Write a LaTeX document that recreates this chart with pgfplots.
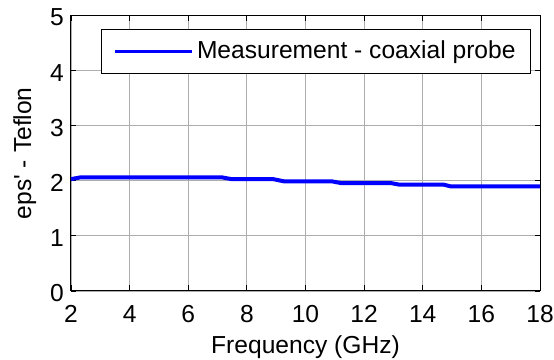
\documentclass[border=0pt]{standalone}
\usepackage{fontspec}
\setmainfont{Liberation Sans}
\usepackage{pgfplots}
\pgfplotsset{compat=1.18}
\newcommand{\bigf}{\fontsize{24.6pt}{29pt}\selectfont}
\begin{document}
\bigf
\begin{tikzpicture}
\begin{axis}[name=ax, scale only axis, width=469pt, height=275.5pt,
 xmin=2, xmax=18, ymin=0, ymax=5,
 xtick={2,4,...,18}, ytick={0,1,2,3,4,5},
 grid=major, major grid style={line width=0.8pt, color=black!32},
 tick align=inside, major tick length=5.5pt, tick style={black, line width=0.8pt},
 axis line style={line width=1pt},
 /pgf/number format/assume math mode=true,
 tick label style={font=\bigf, inner sep=0pt},
 xticklabel style={yshift=-14pt},
 yticklabel style={xshift=-7pt, yshift=-2pt},
 xlabel={Frequency (GHz)}, ylabel={eps\textquotesingle\ - Teflon},
 label style={font=\bigf, inner sep=0pt},
 xlabel style={at={(axis description cs:0.5,-0.1625)}, anchor=north},
 ylabel style={at={(axis description cs:-0.1234,0.5)}, anchor=north},
 legend style={at={(rel axis cs:0.9808,0.950)}, anchor=north east, draw=black, line width=0.8pt, fill=white,
   inner xsep=12pt, inner ysep=8pt, font=\bigf, nodes={inner sep=3pt},
   /tikz/every even column/.append style={column sep=1pt}},
 legend image code/.code={\draw[#1, line width=3.6pt] (0pt,0pt) -- (77pt,0pt);},
]
\addplot[color={rgb,255:red,0;green,0;blue,255}, line width=4pt] coordinates {
(2.0,2.03) (2.3,2.06) (7.17,2.06) (7.48,2.03) (8.9,2.03) (9.27,1.99) (10.9,1.99) (11.2,1.96) (12.9,1.96) (13.2,1.93) (14.72,1.93) (14.94,1.90) (18,1.90)
};
\addlegendentry{Measurement - coaxial probe}
\end{axis}
\pgfresetboundingbox
\path ([shift={(-71pt,-69pt)}]ax.south west) rectangle ([shift={(14pt,15.5pt)}]ax.north east);
\end{tikzpicture}
\end{document}
